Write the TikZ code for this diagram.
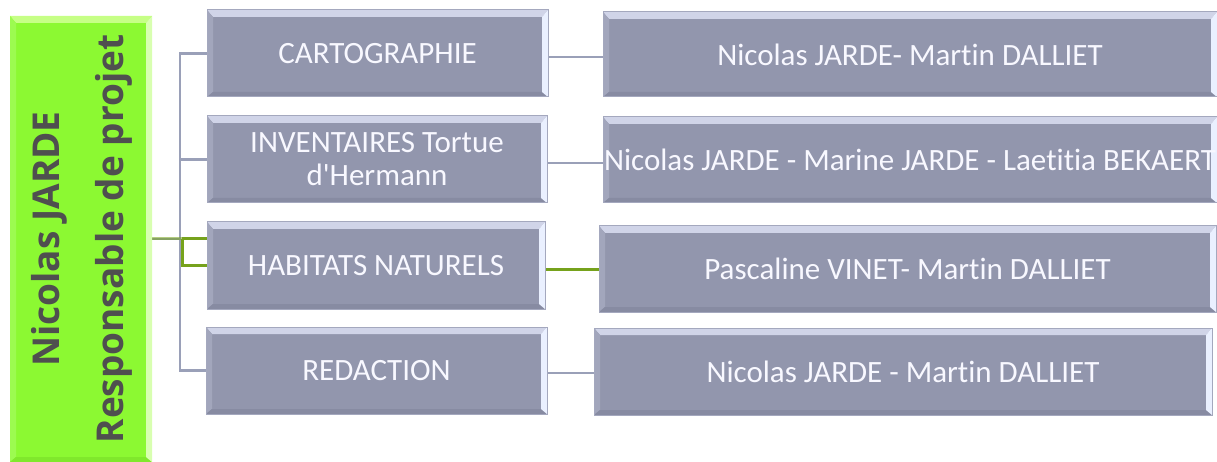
\documentclass[tikz,border=0pt]{standalone}
\usepackage{fontspec}
\setmainfont{Carlito}[Ligatures={NoCommon}]
\newfontfamily\rootfont{Open Sans}
\usetikzlibrary{backgrounds}
\definecolor{boxfill}{HTML}{9296AD}
\definecolor{boxtop}{HTML}{D0D4E8}
\definecolor{boxright}{HTML}{EAF0FF}
\definecolor{boxleft}{HTML}{A2A6BC}
\definecolor{boxbot}{HTML}{878BA2}
\definecolor{boxline}{HTML}{A4A8BE}
\definecolor{rootfill}{HTML}{8CF932}
\definecolor{roottop}{HTML}{C6FF86}
\definecolor{rootright}{HTML}{D8FFB0}
\definecolor{rootleft}{HTML}{9CFB50}
\definecolor{rootbot}{HTML}{80E82C}
\definecolor{conngray}{HTML}{9AA0B8}
\definecolor{conngreen}{HTML}{76A21C}
\definecolor{roottext}{HTML}{4F4F4F}
\definecolor{boxtext}{HTML}{F8F8FF}
\tikzset{
  bev/.style n args={4}{path picture={
    \fill[#1] (path picture bounding box.north west) -- (path picture bounding box.north east)
      -- ([shift={(-6pt,-7pt)}]path picture bounding box.north east)
      -- ([shift={(6pt,-7pt)}]path picture bounding box.north west) -- cycle;
    \fill[#3] (path picture bounding box.north west) -- ([shift={(6pt,-7pt)}]path picture bounding box.north west)
      -- ([shift={(6pt,5pt)}]path picture bounding box.south west)
      -- (path picture bounding box.south west) -- cycle;
    \fill[#4] (path picture bounding box.south west) -- (path picture bounding box.south east)
      -- ([shift={(-6pt,5pt)}]path picture bounding box.south east)
      -- ([shift={(6pt,5pt)}]path picture bounding box.south west) -- cycle;
    \fill[#2] (path picture bounding box.north east) -- (path picture bounding box.south east)
      -- ([shift={(-6pt,5pt)}]path picture bounding box.south east)
      -- ([shift={(-6pt,-7pt)}]path picture bounding box.north east) -- cycle;
  }},
  taskbox/.style={draw=boxline, line width=1pt, fill=boxfill, inner sep=0pt,
    minimum height=87pt, text=boxtext, align=center,
    font=\fontsize{31}{33}\selectfont,
    bev={boxtop}{boxright}{boxleft}{boxbot}},
  rootbox/.style={fill=rootfill, inner sep=0pt, minimum width=142pt, minimum height=446pt,
    bev={roottop}{rootright}{rootleft}{rootbot}},
  roottxt/.style={rotate=90, inner sep=0pt, align=center, text=roottext,
    font=\rootfont\bfseries\fontsize{37}{64}\selectfont},
  conn/.style={draw=conngray, line width=2.5pt},
  gconn/.style={draw=conngreen, line width=3pt},
}
\begin{document}
\begin{tikzpicture}[x=1pt,y=-1pt]
\useasboundingbox (0,0) rectangle (1217,462);
% root
\node[rootbox] (root) at (81,239) {};
\node[roottxt] (rtext) at (82,239) {Nicolas JARDE\\Responsable de projet};
% middle column
\node[taskbox, minimum width=341pt] (m1) at (377.5,53.5) {CARTOGRAPHIE};
\node[taskbox, minimum width=340pt] (m2) at (377,159.5) {INVENTAIRES Tortue\\d\textquotesingle Hermann};
\node[taskbox, minimum width=338pt] (m3) at (376,265.5) {HABITATS NATURELS};
\node[taskbox, minimum width=341pt] (m4) at (376.5,370.5) {REDACTION};
% right column
\node[taskbox, minimum width=614pt, minimum height=85pt] (r1) at (910,54.5) {Nicolas JARDE- Martin DALLIET};
\node[taskbox, minimum width=614pt, minimum height=86pt] (r2) at (910,160) {Nicolas JARDE - Marine JARDE - Laetitia BEKAERT};
\node[taskbox, minimum width=617pt, minimum height=86pt] (r3) at (907.5,269) {Pascaline VINET- Martin DALLIET};
\node[taskbox, minimum width=618pt, minimum height=87pt] (r4) at (903,371.5) {Nicolas JARDE - Martin DALLIET};
\coordinate (jn) at (182,239);
\begin{scope}[on background layer]
  \draw[conn] (root.east) -- (180,239) |- (m1.west);
  \draw[conn] (root.east) -- (180,239) |- (m2.west);
  \draw[conn] (root.east) -- (180,239) |- (m4.west);
  \draw[conn] ([yshift=-3.5pt]m1.east) -- ([yshift=-3.5pt]m1.east -| r1.west);
  \draw[conn] ([yshift=-3.5pt]m2.east) -- ([yshift=-3.5pt]m2.east -| r2.west);
  \draw[conn] ([yshift=-2.5pt]m4.east) -- ([yshift=-2.5pt]m4.east -| r4.west);
  \draw[gconn, draw opacity=0.55] (root.east) -- (jn);
  \draw[gconn] (jn) -- (root.east -| m3.west);
  \draw[gconn] (jn) |- (m3.west);
  \draw[gconn] ([yshift=-3.5pt]m3.east) -- ([yshift=-3.5pt]m3.east -| r3.west);
\end{scope}
\end{tikzpicture}
\end{document}
